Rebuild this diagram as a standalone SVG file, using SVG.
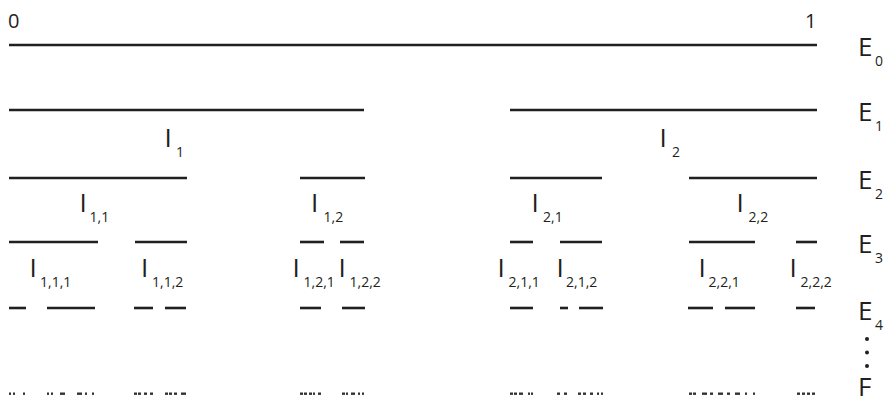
<svg xmlns="http://www.w3.org/2000/svg" width="888" height="404" viewBox="0 0 888 404">
<style>
.seg{stroke:#231f20;stroke-width:2.6;fill:none}
.f{fill:#333}
text{font-family:"Open Sans","Liberation Sans",sans-serif;fill:#231f20}
.m{font-size:26px}
.s{font-size:14px}
.n{font-size:20px}
</style>
<rect width="888" height="404" fill="#fff"/>
<g id="connectors">
<g id="E0-set"><line class="seg" x1="9" y1="45" x2="817" y2="45"/></g>
<g id="E1-set">
<line class="seg" x1="9" y1="110" x2="364" y2="110"/>
<line class="seg" x1="510" y1="110" x2="817" y2="110"/>
</g>
<g id="E2-set">
<line class="seg" x1="9" y1="178" x2="187" y2="178"/>
<line class="seg" x1="300" y1="178" x2="365" y2="178"/>
<line class="seg" x1="510" y1="178" x2="602" y2="178"/>
<line class="seg" x1="689" y1="178" x2="817" y2="178"/>
</g>
<g id="E3-set">
<line class="seg" x1="9" y1="242" x2="98" y2="242"/>
<line class="seg" x1="135" y1="242" x2="187" y2="242"/>
<line class="seg" x1="300" y1="242" x2="324" y2="242"/>
<line class="seg" x1="340" y1="242" x2="364" y2="242"/>
<line class="seg" x1="510" y1="242" x2="533" y2="242"/>
<line class="seg" x1="560" y1="242" x2="602" y2="242"/>
<line class="seg" x1="689" y1="242" x2="755" y2="242"/>
<line class="seg" x1="796" y1="242" x2="817" y2="242"/>
</g>
<g id="E4-set">
<line class="seg" x1="9" y1="308" x2="26" y2="308"/>
<line class="seg" x1="47" y1="308" x2="95" y2="308"/>
<line class="seg" x1="134" y1="308" x2="153" y2="308"/>
<line class="seg" x1="165" y1="308" x2="186" y2="308"/>
<line class="seg" x1="300" y1="308" x2="321" y2="308"/>
<line class="seg" x1="342" y1="308" x2="365" y2="308"/>
<line class="seg" x1="510" y1="308" x2="533" y2="308"/>
<line class="seg" x1="560" y1="308" x2="568" y2="308"/>
<line class="seg" x1="579" y1="308" x2="603" y2="308"/>
<line class="seg" x1="688" y1="308" x2="713" y2="308"/>
<line class="seg" x1="725" y1="308" x2="755" y2="308"/>
<line class="seg" x1="796" y1="308" x2="815" y2="308"/>
</g>
<g id="F-set">
<rect class="f" x="9" y="392.5" width="2" height="2.4"/><rect class="f" x="13" y="392.5" width="2" height="2.4"/><rect class="f" x="23" y="392.5" width="2" height="2.4"/>
<rect class="f" x="47" y="392.5" width="2" height="2.4"/><rect class="f" x="51" y="392.5" width="2" height="2.4"/><rect class="f" x="60" y="392.5" width="5" height="2.4"/><rect class="f" x="77" y="392.5" width="5" height="2.4"/><rect class="f" x="85" y="392.5" width="2" height="2.4"/><rect class="f" x="92" y="392.5" width="2" height="2.4"/>
<rect class="f" x="134" y="392.5" width="3" height="2.4"/><rect class="f" x="138" y="392.5" width="3" height="2.4"/><rect class="f" x="144" y="392.5" width="3" height="2.4"/><rect class="f" x="150" y="392.5" width="3" height="2.4"/>
<rect class="f" x="165" y="392.5" width="3" height="2.4"/><rect class="f" x="169" y="392.5" width="3" height="2.4"/><rect class="f" x="174" y="392.5" width="3" height="2.4"/><rect class="f" x="181" y="392.5" width="5" height="2.4"/>
<rect class="f" x="300" y="392.5" width="3" height="2.4"/><rect class="f" x="304" y="392.5" width="3" height="2.4"/><rect class="f" x="309" y="392.5" width="3" height="2.4"/><rect class="f" x="313" y="392.5" width="2" height="2.4"/><rect class="f" x="318" y="392.5" width="3" height="2.4"/>
<rect class="f" x="342" y="392.5" width="3" height="2.4"/><rect class="f" x="346" y="392.5" width="2" height="2.4"/><rect class="f" x="351" y="392.5" width="4" height="2.4"/><rect class="f" x="358" y="392.5" width="2" height="2.4"/><rect class="f" x="362" y="392.5" width="2" height="2.4"/>
<rect class="f" x="510" y="392.5" width="3" height="2.4"/><rect class="f" x="514" y="392.5" width="3" height="2.4"/><rect class="f" x="519" y="392.5" width="4" height="2.4"/><rect class="f" x="528" y="392.5" width="2" height="2.4"/><rect class="f" x="531" y="392.5" width="2" height="2.4"/>
<rect class="f" x="557" y="392.5" width="3" height="2.4"/><rect class="f" x="564" y="392.5" width="3" height="2.4"/>
<rect class="f" x="578" y="392.5" width="3" height="2.4"/><rect class="f" x="583" y="392.5" width="3" height="2.4"/><rect class="f" x="590" y="392.5" width="3" height="2.4"/><rect class="f" x="597" y="392.5" width="2" height="2.4"/><rect class="f" x="601" y="392.5" width="2" height="2.4"/>
<rect class="f" x="689" y="392.5" width="3" height="2.4"/><rect class="f" x="693" y="392.5" width="3" height="2.4"/><rect class="f" x="702" y="392.5" width="5" height="2.4"/><rect class="f" x="710" y="392.5" width="3" height="2.4"/>
<rect class="f" x="718" y="392.5" width="5" height="2.4"/><rect class="f" x="727" y="392.5" width="3" height="2.4"/><rect class="f" x="735" y="392.5" width="5" height="2.4"/><rect class="f" x="745" y="392.5" width="2" height="2.4"/><rect class="f" x="753" y="392.5" width="2" height="2.4"/>
<rect class="f" x="797" y="392.5" width="3" height="2.4"/><rect class="f" x="802" y="392.5" width="3" height="2.4"/><rect class="f" x="807" y="392.5" width="3" height="2.4"/><rect class="f" x="812" y="392.5" width="3" height="2.4"/>
</g>
</g>
<g id="endpoints">
<text class="n" x="8" y="28">0</text>
<text class="n" x="805" y="28">1</text>
</g>
<g id="I1"><text class="m" x="164.5" y="147">I</text><text class="s" x="176" y="157">1</text></g>
<g id="I2"><text class="m" x="659.5" y="147">I</text><text class="s" x="672" y="157">2</text></g>
<g id="I11"><text class="m" x="79.5" y="212">I</text><text class="s" x="89.5" y="222">1,1</text></g>
<g id="I12"><text class="m" x="311" y="212">I</text><text class="s" x="323.5" y="222">1,2</text></g>
<g id="I21"><text class="m" x="531.5" y="212">I</text><text class="s" x="543" y="222">2,1</text></g>
<g id="I22"><text class="m" x="736.5" y="212">I</text><text class="s" x="748.5" y="222">2,2</text></g>
<g id="I111"><text class="m" x="29.5" y="277">I</text><text class="s" x="40" y="287">1,1,1</text></g>
<g id="I112"><text class="m" x="141" y="277">I</text><text class="s" x="152" y="287">1,1,2</text></g>
<g id="I121"><text class="m" x="292.5" y="277">I</text><text class="s" x="303.5" y="287">1,2,1</text></g>
<g id="I122"><text class="m" x="338.5" y="277">I</text><text class="s" x="349.5" y="287">1,2,2</text></g>
<g id="I211"><text class="m" x="497.5" y="277">I</text><text class="s" x="508.5" y="287">2,1,1</text></g>
<g id="I212"><text class="m" x="556.5" y="277">I</text><text class="s" x="566" y="287">2,1,2</text></g>
<g id="I221"><text class="m" x="698.5" y="277">I</text><text class="s" x="708.5" y="287">2,2,1</text></g>
<g id="I222"><text class="m" x="789.5" y="277">I</text><text class="s" x="800.5" y="287">2,2,2</text></g>
<g id="E0"><text class="m" x="858" y="56">E</text><text class="s" x="875" y="66">0</text></g>
<g id="E1"><text class="m" x="858" y="121">E</text><text class="s" x="875" y="131">1</text></g>
<g id="E2"><text class="m" x="858" y="189">E</text><text class="s" x="875" y="199">2</text></g>
<g id="E3"><text class="m" x="858" y="253">E</text><text class="s" x="875" y="263">3</text></g>
<g id="E4"><text class="m" x="858" y="320">E</text><text class="s" x="875" y="330">4</text></g>
<g id="vdots" fill="#231f20">
<circle cx="867" cy="339" r="2"/><circle cx="867" cy="352.5" r="2"/><circle cx="867" cy="366" r="2"/>
</g>
<g id="F"><text class="m" x="858" y="396">F</text></g>
</svg>
